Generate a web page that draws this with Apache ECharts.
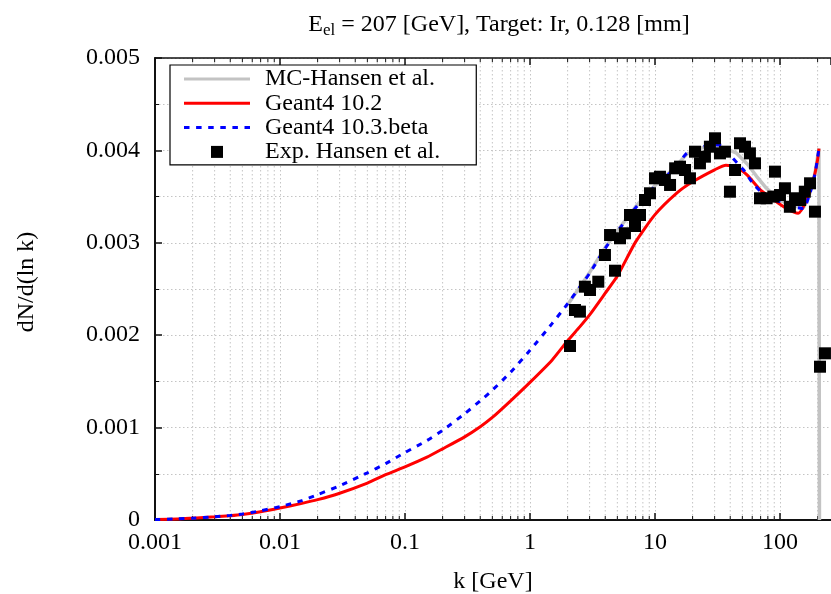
<!DOCTYPE html>
<html>
<head>
<meta charset="utf-8">
<script src="https://cdn.jsdelivr.net/npm/echarts@6/dist/echarts.min.js"></script>
<style>
  html, body { margin: 0; padding: 0; background: #fff; }
  #chart { width: 831px; height: 594px; }
</style>
</head>
<body>
<div id="chart"></div>
<script>
// Photon spectrum dN/d(ln k) versus photon energy k, 207 GeV electrons on 0.128 mm Ir

// Geant4 10.2 simulation
const kG4102 = [0.001, 0.0015, 0.002, 0.003, 0.004, 0.005, 0.007, 0.01, 0.015, 0.02, 0.03, 0.05, 0.07, 0.1,
  0.15, 0.2, 0.3, 0.4, 0.5, 0.7, 1, 1.5, 2, 2.5, 3, 4, 5, 7, 10, 15, 20, 30, 37, 45, 55, 70, 90, 113,
  140, 163, 185, 200, 205];
const yG4102 = [0.000005, 0.000010, 0.000020, 0.000035, 0.000047, 0.000060, 0.000090, 0.000130, 0.000180,
  0.000220, 0.000290, 0.000400, 0.000490, 0.000575, 0.000680, 0.000770, 0.000900, 0.001010, 0.001110,
  0.001290, 0.001490, 0.001730, 0.001940, 0.002090, 0.002220, 0.002455, 0.002640, 0.003010, 0.003305,
  0.003540, 0.003660, 0.003790, 0.003840, 0.003820, 0.003730, 0.003570, 0.003460, 0.003370, 0.003320,
  0.003460, 0.003680, 0.003900, 0.004020];

// Geant4 10.3.beta simulation
const kG4103 = [0.001, 0.0015, 0.002, 0.003, 0.004, 0.005, 0.007, 0.01, 0.015, 0.02, 0.03, 0.05, 0.07, 0.1,
  0.15, 0.2, 0.3, 0.4, 0.5, 0.7, 1, 1.5, 2, 2.5, 3, 4, 5, 7, 10, 14, 18, 24, 30, 35, 41, 51, 61, 78, 100,
  128, 154, 174, 191, 205];
const yG4103 = [0.000005, 0.000012, 0.000020, 0.000035, 0.000050, 0.000065, 0.000100, 0.000145, 0.000210,
  0.000275, 0.000370, 0.000510, 0.000610, 0.000730, 0.000860, 0.000970, 0.001150, 0.001290, 0.001405,
  0.001600, 0.001836, 0.002125, 0.002340, 0.002520, 0.002670, 0.002940, 0.003120, 0.003380, 0.003610,
  0.003790, 0.003970, 0.004040, 0.004060, 0.004050, 0.003930, 0.003790, 0.003640, 0.003500, 0.003445,
  0.003390, 0.003370, 0.003540, 0.003750, 0.004020];

// MC calculation by Hansen et al. (ends at the beam energy)
const kMc = [2, 2.5, 3, 4, 5, 7, 10, 14, 18, 24, 30, 37, 45, 55, 65, 78, 100, 128, 154, 174, 191, 205, 207, 207];
const yMc = [0.00233, 0.00252, 0.00268, 0.00295, 0.00313, 0.00339, 0.00362, 0.00380, 0.00396, 0.00403,
  0.00405, 0.00402, 0.00397, 0.00385, 0.00372, 0.00359, 0.00346, 0.00340, 0.00338, 0.00354, 0.00376,
  0.00402, 0.00400, 0];

// Measured points, Hansen et al.
const kExp = [2.09, 2.29, 2.51, 2.75, 3.02, 3.52, 4.79, 3.98, 4.37, 5.25, 5.75, 6.92, 6.31, 7.59, 8.32, 9.12,
  10.0, 10.96, 12.0, 13.2, 14.5, 15.85, 17.4, 19.05, 20.9, 22.9, 25.1, 27.5, 30.2, 33.1, 36.3, 39.8, 43.7,
  47.9, 52.5, 57.5, 63.1, 69.2, 78.2, 91.2, 88.5, 100, 109.6, 120, 132, 145, 158, 174, 190.5, 229, 209];
const yExp = [0.001883, 0.002273, 0.002255, 0.002525, 0.002489, 0.002579, 0.002698, 0.002868, 0.003084,
  0.003049, 0.003103, 0.003182, 0.003301, 0.003301, 0.003463, 0.003536, 0.003698, 0.003715, 0.003680,
  0.003626, 0.003806, 0.003824, 0.003788, 0.003698, 0.003986, 0.003860, 0.003932, 0.004040, 0.004131,
  0.003968, 0.003986, 0.003553, 0.003788, 0.004077, 0.004040, 0.003968, 0.003860, 0.003482, 0.003482,
  0.003770, 0.003500, 0.003517, 0.003590, 0.003390, 0.003482, 0.003463, 0.003553, 0.003644, 0.003337,
  0.001804, 0.001659];

// Axis ranges and tick labels
const xMin = 0.001, xMax = 256;
const yMin = 0, yMax = 0.005, yStep = 0.001;
const xTickLabels = ['0.001', '0.01', '0.1', '1', '10', '100'];
const yTickLabels = ['0', '0.001', '0.002', '0.003', '0.004', '0.005'];

// Minor ticks of the log axis: 2..9 within every decade
const xMinor = [];
for (let d = 0.001; d < 1000; d *= 10) {
  for (let m = 2; m <= 9; m++) {
    const v = +(d * m).toPrecision(3);
    if (v < xMax) xMinor.push([v, 0]);
  }
}

const zip = (xs, ys) => xs.map((x, i) => [x, ys[i]]);
const FONT = 'Liberation Serif';
const FS = 24;
const gridLine = { color: '#c4c4c4', width: 1, type: [1.5, 2.5] };
const frame = { show: true, lineStyle: { color: '#111', width: 2 } };

// Legend keys: a solid bar, a dashed bar and a filled square
const keySolid = 'path://M0,0H66V3H0Z';
const keyDashed = 'path://M0,0h5.5v3h-5.5z M12.1,0h5.5v3h-5.5z M24.2,0h5.5v3h-5.5z M36.3,0h5.5v3h-5.5z M48.4,0h5.5v3h-5.5z M60.5,0h5.5v3h-5.5z';
const keySquare = 'path://M0,0H1V1H0Z';

const chart = echarts.init(document.getElementById('chart'), null, { renderer: 'canvas' });

chart.setOption({
  animation: false,
  backgroundColor: '#fff',
  textStyle: { fontFamily: FONT },
  title: {
    text: 'E{sub|el} = 207 [GeV], Target: Ir, 0.128 [mm]',
    left: 494, top: 5, textAlign: 'center',
    textStyle: {
      fontFamily: FONT, fontSize: FS, fontWeight: 'normal', color: '#000',
      rich: { sub: { fontFamily: FONT, fontSize: 17, verticalAlign: 'bottom', padding: [12, 0, 0, 0], color: '#000' } }
    }
  },
  grid: { left: 155, right: 0, top: 58, bottom: 74, containLabel: false, outerBoundsMode: 'none' },
  legend: {
    orient: 'vertical', left: 170, top: 65,
    padding: [2, 36, 1, 14],
    itemGap: 0.3, itemWidth: 66, itemHeight: 12,
    symbolKeepAspect: true,
    borderColor: '#000', borderWidth: 1.2, backgroundColor: '#fff',
    textStyle: { fontFamily: FONT, fontSize: FS, color: '#000', padding: [0, 0, 0, 10] },
    data: [
      { name: 'MC-Hansen et al.', icon: keySolid },
      { name: 'Geant4 10.2', icon: keySolid },
      { name: 'Geant4 10.3.beta', icon: keyDashed },
      { name: 'Exp. Hansen et al.', icon: keySquare }
    ]
  },
  xAxis: [{
    type: 'log', logBase: 10, min: xMin, max: xMax,
    name: 'k [GeV]', nameLocation: 'middle', nameGap: 50,
    nameTextStyle: { fontFamily: FONT, fontSize: FS, color: '#000' },
    axisLine: frame,
    axisTick: { show: true, inside: true, length: 7, lineStyle: { color: '#111', width: 1.5 } },
    axisLabel: {
      fontFamily: FONT, fontSize: FS, color: '#000', margin: 11, showMaxLabel: false,
      formatter: (v) => {
        const e = Math.round(Math.log10(v));
        return Math.abs(Math.log10(v) - e) < 1e-6 ? (xTickLabels[e + 3] || '') : '';
      }
    },
    splitLine: { show: true, lineStyle: gridLine }
  }, {
    type: 'log', logBase: 10, min: xMin, max: xMax, position: 'top',
    axisLine: { show: true, lineStyle: { color: '#111', width: 1.5 } },
    axisTick: { show: true, inside: true, length: 7, lineStyle: { color: '#111', width: 1.5 } },
    axisLabel: { show: false },
    splitLine: { show: false }
  }],
  yAxis: {
    type: 'value', min: yMin, max: yMax, interval: yStep,
    name: 'dN/d(ln k)', nameLocation: 'middle', nameGap: 116, nameRotate: 90,
    nameTextStyle: { fontFamily: FONT, fontSize: FS, color: '#000', padding: [0, 0, 0, 14] },
    axisLine: frame,
    axisTick: { show: true, inside: true, length: 7, lineStyle: { color: '#111', width: 1.5 } },
    minorTick: { show: true, splitNumber: 2, length: 4, lineStyle: { color: '#111', width: 1 } },
    axisLabel: {
      fontFamily: FONT, fontSize: FS, color: '#000', margin: 15,
      formatter: (v) => yTickLabels[Math.round(v / yStep)]
    },
    splitLine: { show: true, lineStyle: gridLine },
    minorSplitLine: { show: true, lineStyle: gridLine }
  },
  series: [
    {
      // minor grid lines and ticks of the log axis
      type: 'custom', name: 'xminor', silent: true, z: 1,
      xAxisIndex: 0, yAxisIndex: 0,
      data: xMinor,
      renderItem: (params, api) => {
        const v = api.value(0);
        const b = api.coord([v, yMin]);
        const t = api.coord([v, yMax]);
        return {
          type: 'group',
          children: [
            { type: 'line', shape: { x1: b[0], y1: t[1], x2: b[0], y2: b[1] },
              style: { stroke: '#c4c4c4', lineWidth: 1, lineDash: [1.5, 2.5] } },
            { type: 'line', shape: { x1: b[0], y1: b[1], x2: b[0], y2: b[1] - 4 },
              style: { stroke: '#111', lineWidth: 1 } },
            { type: 'line', shape: { x1: b[0], y1: t[1], x2: b[0], y2: t[1] + 4 },
              style: { stroke: '#111', lineWidth: 1 } }
          ]
        };
      }
    },
    {
      name: 'MC-Hansen et al.', type: 'line', data: zip(kMc, yMc),
      symbol: 'none', lineStyle: { color: '#c3c3c3', width: 3.5 }, itemStyle: { color: '#c3c3c3' }, z: 3
    },
    {
      name: 'Geant4 10.2', type: 'line', data: zip(kG4102, yG4102), smooth: 0.2,
      symbol: 'none', lineStyle: { color: '#ff0000', width: 3 }, itemStyle: { color: '#ff0000' }, z: 3
    },
    {
      name: 'Geant4 10.3.beta', type: 'line', data: zip(kG4103, yG4103), smooth: 0.2,
      symbol: 'none', lineStyle: { color: '#0000ff', width: 3, type: [5.5, 6.5] }, itemStyle: { color: '#0000ff' }, z: 3
    },
    {
      name: 'Exp. Hansen et al.', type: 'scatter', data: zip(kExp, yExp),
      symbol: 'rect', symbolSize: 12, itemStyle: { color: '#000', opacity: 1 }, z: 4
    }
  ]
});
</script>
</body>
</html>
